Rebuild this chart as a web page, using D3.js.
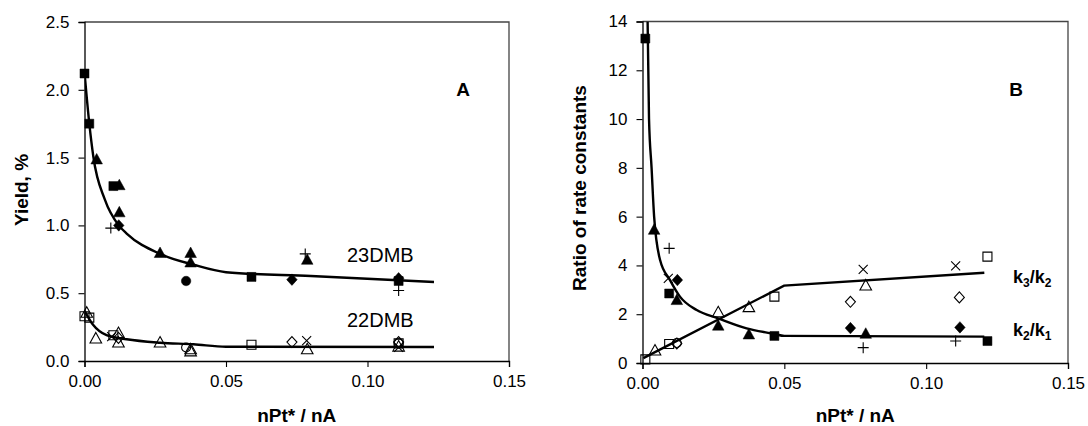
<!DOCTYPE html>
<html><head><meta charset="utf-8">
<script src="https://cdn.jsdelivr.net/npm/d3@7"></script>
<style>
body{margin:0;background:#fff;}
text{font-family:"Liberation Sans",Arial,sans-serif;fill:#000;}
</style></head>
<body><svg id="c" width="1088" height="426"></svg>
<script>
// ---------- DATA ----------
const xTicks = [0, 0.05, 0.10, 0.15];
const yTicksA = [0, 0.5, 1.0, 1.5, 2.0, 2.5];
const yTicksB = [0, 2, 4, 6, 8, 10, 12, 14];

// Panel A – 23DMB (filled symbols)
const a23Square   = [[0,2.12],[0.0017,1.75],[0.0102,1.29],[0.059,0.62],[0.111,0.59]];
const a23Triangle = [[0.0043,1.49],[0.0123,1.30],[0.0123,1.10],[0.0267,0.80],[0.0375,0.80],[0.0375,0.73],[0.0787,0.75]];
const a23Diamond  = [[0.0121,1.00],[0.0733,0.60],[0.111,0.61]];
const a23Circle   = [[0.0359,0.59]];
const a23Plus     = [[0.0093,0.98],[0.078,0.79],[0.111,0.52]];
const a23Fit      = [[0,2.13],[0.0017,1.75],[0.0031,1.51],[0.0072,1.19],[0.0121,1.0],[0.0149,0.94],[0.0267,0.79],[0.0385,0.71],[0.05,0.655],[0.08,0.627],[0.1235,0.583]];
// Panel A – 22DMB (open symbols)
const a22Square   = [[0,0.33],[0.0017,0.32],[0.0102,0.19],[0.059,0.12],[0.111,0.13]];
const a22Triangle = [[0.0008,0.36],[0.004,0.17],[0.012,0.21],[0.012,0.14],[0.0267,0.14],[0.0375,0.09],[0.0375,0.075],[0.0787,0.09],[0.111,0.11]];
const a22Diamond  = [[0.012,0.17],[0.0733,0.14],[0.111,0.14]];
const a22Circle   = [[0.0359,0.10],[0.111,0.13]];
const a22Cross    = [[0.0096,0.18],[0.0785,0.15],[0.111,0.10]];
const a22Fit      = [[0,0.37],[0.0031,0.265],[0.0078,0.19],[0.0149,0.16],[0.0267,0.135],[0.0385,0.123],[0.05,0.105],[0.1235,0.103]];

// Panel B – k2/k1 (filled symbols)
const bK21Square   = [[0.001,13.3],[0.0094,2.85],[0.0465,1.11],[0.1216,0.9]];
const bK21Triangle = [[0.0041,5.48],[0.0121,2.6],[0.0267,1.55],[0.0375,1.19],[0.0787,1.22]];
const bK21Diamond  = [[0.0123,3.4],[0.0733,1.43],[0.1119,1.46]];
const bK21Plus     = [[0.0094,4.7],[0.0778,0.63],[0.1104,0.9]];
const bK21Fit      = [[0.0018,14],[0.0023,10],[0.0032,8],[0.0041,6],[0.0062,4.22],[0.0097,3.40],[0.0132,2.72],[0.0191,2.17],[0.0267,1.83],[0.0367,1.42],[0.0465,1.19],[0.05,1.11],[0.1205,1.08]];
// Panel B – k3/k2 (open symbols)
const bK32Square   = [[0.001,0.15],[0.0094,0.78],[0.0465,2.72],[0.1216,4.36]];
const bK32Triangle = [[0.0044,0.53],[0.0267,2.1],[0.0375,2.31],[0.0787,3.2]];
const bK32Diamond  = [[0.0121,0.8],[0.0733,2.51],[0.1117,2.69]];
const bK32Circle   = [[0.0121,0.82]];
const bK32Cross    = [[0.0091,3.47],[0.0778,3.84],[0.1104,3.98]];
const bK32Fit      = [[0.0003,0.2],[0.0499,3.17],[0.1205,3.70]];

// ---------- DRAW ----------
const svg = d3.select("#c");
const FONT_TICK = "17px";
const FONT_TITLE = "19px";

function shapePath(type, s) {
  const h = s/2;
  switch (type) {
    case "square": return `M${-h},${-h}H${h}V${h}H${-h}Z`;
    case "triangle": return `M0,${-h-0.5}L${h+0.8},${h}L${-h-0.8},${h}Z`;
    case "diamond": return `M0,${-h-0.5}L${h},0L0,${h+0.5}L${-h},0Z`;
    case "circle": return `M${h},0A${h},${h} 0 1,1 ${-h},0A${h},${h} 0 1,1 ${h},0Z`;
    case "plus": return `M${-h-1},0H${h+1}M0,${-h-1}V${h+1}`;
    case "cross": return `M${-h},${-h}L${h},${h}M${-h},${h}L${h},${-h}`;
  }
}

function panel(cfg) {
  const x = d3.scaleLinear().domain([0, 0.15]).range([cfg.x0, cfg.x1]);
  const y = d3.scaleLinear().domain([0, cfg.ymax]).range([cfg.y0, cfg.y1]);
  const g = svg.append("g");

  g.append("path")
    .attr("d", `M${cfg.x0},${cfg.y1}H${cfg.x1}V${cfg.y0}`)
    .attr("fill","none").attr("stroke","#444").attr("stroke-width",1.3);

  const xa = g.append("g").attr("transform",`translate(0,${cfg.y0})`)
    .call(d3.axisBottom(x).tickValues(xTicks).tickFormat(d3.format(".2f")).tickSize(6).tickPadding(8));
  const ya = g.append("g").attr("transform",`translate(${cfg.x0},0)`)
    .call(d3.axisLeft(y).tickValues(cfg.yTicks).tickFormat(cfg.yFmt).tickSize(6).tickPadding(9));
  [xa, ya].forEach(a => {
    a.select(".domain").attr("stroke","#000").attr("stroke-width",1.3);
    a.selectAll(".tick line").attr("stroke","#000").attr("stroke-width",1.1);
    a.selectAll(".tick text").style("font-size",FONT_TICK).style("font-family","Liberation Sans, Arial, sans-serif");
  });

  const clipId = "clip" + cfg.name;
  svg.append("clipPath").attr("id", clipId).append("rect")
    .attr("x", cfg.x0).attr("y", cfg.y1).attr("width", cfg.x1-cfg.x0).attr("height", cfg.y0-cfg.y1);

  cfg.fits.forEach(f => {
    g.append("path").datum(f.data).attr("d", d3.line().x(d=>x(d[0])).y(d=>y(d[1])).curve(f.curve))
      .attr("fill","none").attr("stroke","#000").attr("stroke-width",2.4)
      .attr("clip-path",`url(#${clipId})`);
  });

  cfg.series.forEach(s => {
    const filled = s.filled;
    const isLine = s.type==="plus" || s.type==="cross";
    g.append("g").selectAll("path").data(s.data).join("path")
      .attr("transform", d => `translate(${x(d[0])},${y(d[1])})`)
      .attr("d", shapePath(s.type, s.size || 9))
      .attr("fill", isLine ? "none" : (filled ? "#000" : "none"))
      .attr("stroke", "#000")
      .attr("stroke-width", isLine ? 1.1 : (filled ? 0.5 : 1.1));
  });

  g.append("text").attr("x",(cfg.x0+cfg.x1)/2).attr("y",422)
    .attr("text-anchor","middle").style("font-size",FONT_TITLE).style("font-weight","bold")
    .text("nPt* / nA");
  g.append("text").attr("transform",`translate(${cfg.ytx},${cfg.yty}) rotate(-90)`)
    .attr("text-anchor","middle").style("font-size",FONT_TITLE).style("font-weight","bold")
    .text(cfg.yTitle);
  g.append("text").attr("x",cfg.labX).attr("y",96).attr("text-anchor","middle")
    .style("font-size","19px").style("font-weight","bold").text(cfg.name);
  return {x, y, g};
}

const A = panel({
  name:"A", x0:84.5, x1:509, y0:361, y1:22, ymax:2.5, yTicks:yTicksA, yFmt:d3.format(".1f"),
  yTitle:"Yield, %", ytx:28, yty:190, labX:463,
  fits:[{data:a23Fit, curve:d3.curveMonotoneX},{data:a22Fit, curve:d3.curveMonotoneX}],
  series:[
    {data:a22Square, type:"square", filled:false},
    {data:a22Triangle, type:"triangle", filled:false, size:10},
    {data:a22Diamond, type:"diamond", filled:false, size:10},
    {data:a22Circle, type:"circle", filled:false},
    {data:a22Cross, type:"cross", filled:false},
    {data:a23Square, type:"square", filled:true},
    {data:a23Triangle, type:"triangle", filled:true, size:10},
    {data:a23Diamond, type:"diamond", filled:true, size:10.5},
    {data:a23Circle, type:"circle", filled:true, size:9.5},
    {data:a23Plus, type:"plus", filled:false}
  ]
});
A.g.append("text").attr("x",347).attr("y",262).style("font-size","20px").text("23DMB");
A.g.append("text").attr("x",347).attr("y",327).style("font-size","20px").text("22DMB");

const B = panel({
  name:"B", x0:642.5, x1:1068, y0:363, y1:21.5, ymax:14, yTicks:yTicksB, yFmt:d3.format("d"),
  yTitle:"Ratio of rate constants", ytx:586, yty:188, labX:1016,
  fits:[{data:bK21Fit, curve:d3.curveMonotoneX},{data:bK32Fit, curve:d3.curveLinear}],
  series:[
    {data:bK32Square, type:"square", filled:false},
    {data:bK32Triangle, type:"triangle", filled:false, size:10},
    {data:bK32Diamond, type:"diamond", filled:false, size:10},
    {data:bK32Circle, type:"circle", filled:false},
    {data:bK32Cross, type:"cross", filled:false},
    {data:bK21Square, type:"square", filled:true},
    {data:bK21Triangle, type:"triangle", filled:true, size:10},
    {data:bK21Diamond, type:"diamond", filled:true, size:10.5},
    {data:bK21Plus, type:"plus", filled:false}
  ]
});
const k32 = B.g.append("text").attr("x",1013).attr("y",283).style("font-size","18px").style("font-weight","bold");
k32.append("tspan").text("k");
k32.append("tspan").attr("dy",4).style("font-size","12px").text("3");
k32.append("tspan").attr("dy",-4).text("/k");
k32.append("tspan").attr("dy",4).style("font-size","12px").text("2");
const k21 = B.g.append("text").attr("x",1013).attr("y",336).style("font-size","18px").style("font-weight","bold");
k21.append("tspan").text("k");
k21.append("tspan").attr("dy",4).style("font-size","12px").text("2");
k21.append("tspan").attr("dy",-4).text("/k");
k21.append("tspan").attr("dy",4).style("font-size","12px").text("1");
</script>
</body></html>
